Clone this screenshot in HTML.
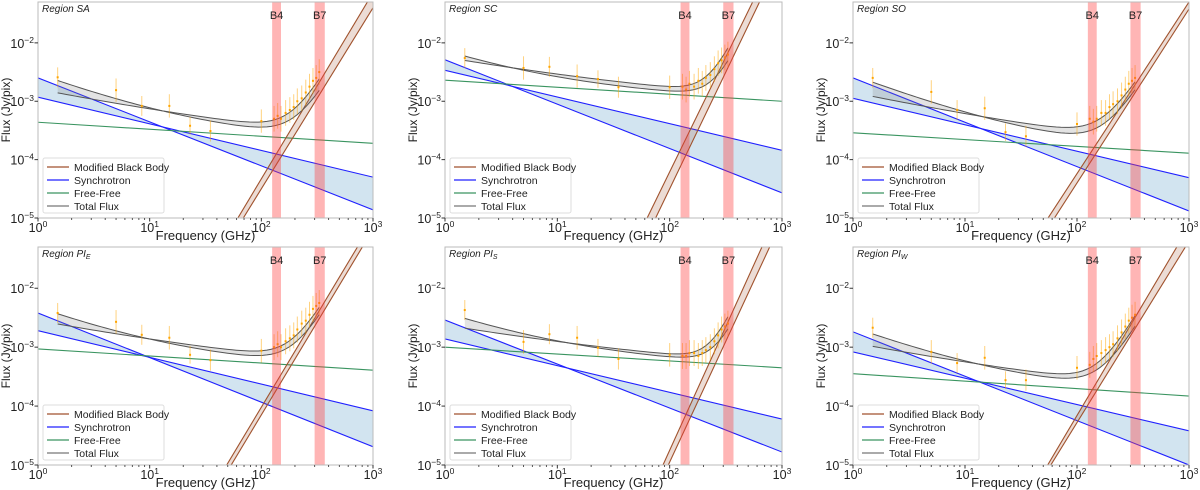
<!DOCTYPE html>
<html><head><meta charset="utf-8"><style>
html,body{margin:0;padding:0;background:#fff;overflow:hidden;}
svg{display:block;font-family:"Liberation Sans",sans-serif;}
</style></head><body>
<svg id="fig" width="1200" height="490" viewBox="0 0 1200 490" xmlns="http://www.w3.org/2000/svg"></svg>
<script>
// ---- data (log10 flux in Jy/pix) ----
const regionNames = ["SA","SC","SO","PI_E","PI_S","PI_W"];
const synSteep = [[-2.60,-4.86],[-2.29,-4.57],[-2.60,-4.88],[-2.42,-4.69],[-2.54,-4.78],[-2.74,-5.00]]; // at 1 GHz, 1000 GHz
const synShallow = [[-2.93,-4.30],[-2.47,-3.84],[-2.95,-4.31],[-2.72,-4.08],[-2.86,-4.22],[-3.08,-4.42]];
const freeFree = [[-3.36,-3.72],[-2.64,-3.00],[-3.54,-3.89],[-3.03,-3.39],[-3.00,-3.35],[-3.45,-3.83]];
const mbbA = [[-4.33,-1.14],[-4.21,-0.27],[-4.24,-1.30],[-4.02,-0.86],[-4.75,-0.55],[-4.16,-0.95]]; // at 100 GHz, 1000 GHz
const mbbB = [[-4.50,-1.40],[-4.50,-0.50],[-4.40,-1.42],[-4.15,-1.00],[-4.95,-0.85],[-4.28,-1.20]];
const lowFreqs = [1.5,5,8.5,15,23,35,100];
const lowVals = [
 [-2.59,-2.81,-3.08,-3.08,-3.42,-3.51,-3.34],
 [-2.26,-2.43,-2.41,-2.57,-2.62,-2.76,-2.76],
 [-2.60,-2.84,-3.15,-3.12,-3.53,-3.60,-3.39],
 [-2.42,-2.57,-2.79,-2.84,-3.13,-3.22,-3.06],
 [-2.37,-2.91,-2.78,-2.84,-3.01,-3.20,-3.13],
 [-2.67,-3.08,-3.27,-3.18,-3.56,-3.56,-3.35]];
const lowErr = [0.17,0.2,0.17,0.2,0.15,0.18,0.2];
const clusterFreqs = [130,140,150,165,180,195,210,230,250,270,290,310,330];
const clusterVals = [
 [-3.30,-3.25,-3.30,-3.20,-3.15,-3.10,-3.00,-2.95,-2.85,-2.75,-2.65,-2.60,-2.50],
 [-2.75,-2.80,-2.70,-2.75,-2.65,-2.70,-2.60,-2.55,-2.45,-2.35,-2.30,-2.25,-2.20],
 [-3.30,-3.35,-3.30,-3.20,-3.20,-3.10,-3.05,-3.00,-2.90,-2.80,-2.70,-2.65,-2.60],
 [-3.00,-2.95,-3.00,-2.90,-2.85,-2.80,-2.70,-2.60,-2.55,-2.45,-2.35,-2.30,-2.25],
 [-3.15,-3.15,-3.10,-3.10,-3.15,-3.10,-3.05,-3.00,-2.90,-2.80,-2.70,-2.65,-2.60],
 [-3.30,-3.20,-3.15,-3.10,-3.05,-3.00,-2.95,-2.85,-2.75,-2.65,-2.55,-2.50,-2.45]];
const xTickExps = [0,1,2,3];
const yTickExps = [-5,-4,-3,-2];
const bandB4 = [125,150], bandB7 = [300,370];

const NS="http://www.w3.org/2000/svg";
const fig=document.getElementById('fig');
function mk(tag,attrs,parent){const e=document.createElementNS(NS,tag);for(const k in attrs)e.setAttribute(k,attrs[k]);(parent||fig).appendChild(e);return e;}
const layouts=[[38,373,2,218],[445,782,2,218],[853,1189,2,218],[38,373,247,465],[445,782,247,465],[853,1189,247,465]];
const YMIN=-5,YMAX=-1.3;

regionNames.forEach((name,i)=>{
  const [L,R,T,B]=layouts[i];
  const g=mk('g',{});
  
  
  const clipId='clip'+i;
  const cp=mk('clipPath',{id:clipId},g);mk('rect',{x:L,y:T,width:R-L,height:B-T},cp);
  const X=lv=>L+(lv-0)/3*(R-L);
  const Y=lf=>B-(lf-YMIN)/(YMAX-YMIN)*(B-T);
  const lin=(p,lnu)=>p[0]+(p[1]-p[0])*lnu/3;
  const mbb=(p,lnu)=>p[0]+(p[1]-p[0])*(lnu-2);
  const plot=mk('g',{'clip-path':'url(#'+clipId+')'},g);
  const s1=synSteep[i],s2=synShallow[i];
  let pts=[];for(let k=0;k<=30;k++){const l=k/10;pts.push(X(l)+','+Y(lin(s1,l)));}
  for(let k=30;k>=0;k--){const l=k/10;pts.push(X(l)+','+Y(lin(s2,l)));}
  const sf=mk('polygon',{points:pts.join(' '),fill:'rgba(31,119,180,0.2)'},plot);
  
  
  [s1,s2].forEach(p=>{const ln=mk('line',{x1:X(0),y1:Y(p[0]),x2:X(3),y2:Y(p[1]),stroke:'#2020ff','stroke-width':1.1},plot);
    
    });
  const ff=freeFree[i];
  const fl=mk('line',{x1:X(0),y1:Y(ff[0]),x2:X(3),y2:Y(ff[1]),stroke:'#3a9460','stroke-width':1.1},plot);
  
  
  const a=mbbA[i],b=mbbB[i];
  pts=[];for(let k=0;k<=30;k++){const l=1+k*2/30;pts.push(X(l)+','+Y(mbb(a,l)));}
  for(let k=30;k>=0;k--){const l=1+k*2/30;pts.push(X(l)+','+Y(mbb(b,l)));}
  const mf=mk('polygon',{points:pts.join(' '),fill:'rgba(160,82,45,0.2)'},plot);
  
  
  [a,b].forEach(p=>{const ln=mk('line',{x1:X(1),y1:Y(mbb(p,1)),x2:X(3),y2:Y(mbb(p,3)),stroke:'#a0522d','stroke-width':1.1},plot);
    
    });
  const tot=(l,hi)=>{const sy=hi?Math.max(lin(s1,l),lin(s2,l)):Math.min(lin(s1,l),lin(s2,l));
    const m=hi?Math.max(mbb(a,l),mbb(b,l)):Math.min(mbb(a,l),mbb(b,l));
    return Math.log10(Math.pow(10,sy)+Math.pow(10,lin(ff,l))+Math.pow(10,m));};
  const l0=Math.log10(1.5),l1=Math.log10(330);
  const up=[],lo=[];for(let k=0;k<=60;k++){const l=l0+(l1-l0)*k/60;up.push(X(l)+','+Y(tot(l,true)));lo.push(X(l)+','+Y(tot(l,false)));}
  const tf=mk('polygon',{points:up.concat(lo.slice().reverse()).join(' '),fill:'rgba(128,128,128,0.22)'},plot);
  
  
  [up,lo].forEach(p=>{const pl=mk('polyline',{points:p.join(' '),fill:'none',stroke:'#555','stroke-width':1},plot);
    
    });
  const pts2=lowFreqs.map((f,k)=>[f,lowVals[i][k],lowErr[k]]).concat(clusterFreqs.map((f,k)=>[f,clusterVals[i][k],0.22]));
  pts2.forEach(([f,v,e])=>{const x=X(Math.log10(f));
    const eb=mk('line',{x1:x,y1:Y(v+e),x2:x,y2:Y(v-e),stroke:'rgba(255,165,0,0.5)','stroke-width':1},plot);
    
    
    const d=mk('rect',{x:x-1,y:Y(v)-1,width:2,height:2,fill:'#ffa500'},plot);
    
    });
  [[bandB4,'B4'],[bandB7,'B7']].forEach(([bd,lab])=>{
    const x1=X(Math.log10(bd[0])),x2=X(Math.log10(bd[1]));
    const r=mk('rect',{x:x1,y:T,width:x2-x1,height:B-T,fill:'rgba(255,60,60,0.38)'},plot);
    
    
    const t=mk('text',{x:(x1+x2)/2,y:T+17,'font-size':11,'text-anchor':'middle',fill:'#222'},g);t.textContent=lab;
    
    });
  const fr=mk('rect',{x:L,y:T,width:R-L,height:B-T,fill:'none',stroke:'#bbb','stroke-width':1},g);
  
  
  xTickExps.forEach(e=>{const x=X(e);mk('line',{x1:x,y1:B,x2:x,y2:B+3.5,stroke:'#333'},g);
    const t=mk('text',{x:x,y:B+14,'font-size':12.5,'text-anchor':'middle',fill:'#222'},g);
    t.innerHTML='10<tspan dy="-5" font-size="8.5">'+e+'</tspan>';
    
    
    if(e<3)for(let m=2;m<10;m++){const xm=X(e+Math.log10(m));mk('line',{x1:xm,y1:B,x2:xm,y2:B+2,stroke:'#555'},g);}});
  yTickExps.forEach(e=>{const y=Y(e);mk('line',{x1:L-3.5,y1:y,x2:L,y2:y,stroke:'#333'},g);
    const t=mk('text',{x:L-4,y:y+5,'font-size':12.5,'text-anchor':'end',fill:'#222'},g);
    t.innerHTML='10<tspan dy="-5" font-size="8.5">−'+(-e)+'</tspan>';
    
    });
  const xt=mk('text',{x:(L+R)/2,y:B+22,'font-size':13,'text-anchor':'middle',fill:'#222'},g);xt.textContent='Frequency (GHz)';
  
  
  const yc=(T+B)/2;
  const yt=mk('text',{x:L-28,y:yc,'font-size':12,'text-anchor':'middle',fill:'#222',transform:'rotate(-90 '+(L-28)+' '+yc+')'},g);yt.textContent='Flux (Jy/pix)';
  
  
  const parts=name.split('_');
  const rt=mk('text',{x:L+4,y:T+10,'font-size':10,'font-style':'italic',fill:'#222'},g);
  rt.innerHTML='Region '+parts[0]+(parts[1]?'<tspan dy="2" font-size="7">'+parts[1]+'</tspan>':'');
  
  
  const lg=mk('g',{},g);
  
  
  const lx=L+5,ly=B-60;
  mk('rect',{x:lx,y:ly,width:121,height:55,rx:2,fill:'rgba(255,255,255,0.85)',stroke:'#ddd'},lg);
  [['Modified Black Body','#a0522d'],['Synchrotron','#2020ff'],['Free-Free','#3a9460'],['Total Flux','#777']].forEach(([txt,c],k)=>{
    const yy=ly+9+k*13;
    mk('line',{x1:lx+4,y1:yy,x2:lx+26,y2:yy,stroke:c,'stroke-width':1.3},lg);
    const t=mk('text',{x:lx+31,y:yy+4,'font-size':10.5,fill:'#222'},lg);t.textContent=txt;
    
    });
});
</script>
</body></html>
